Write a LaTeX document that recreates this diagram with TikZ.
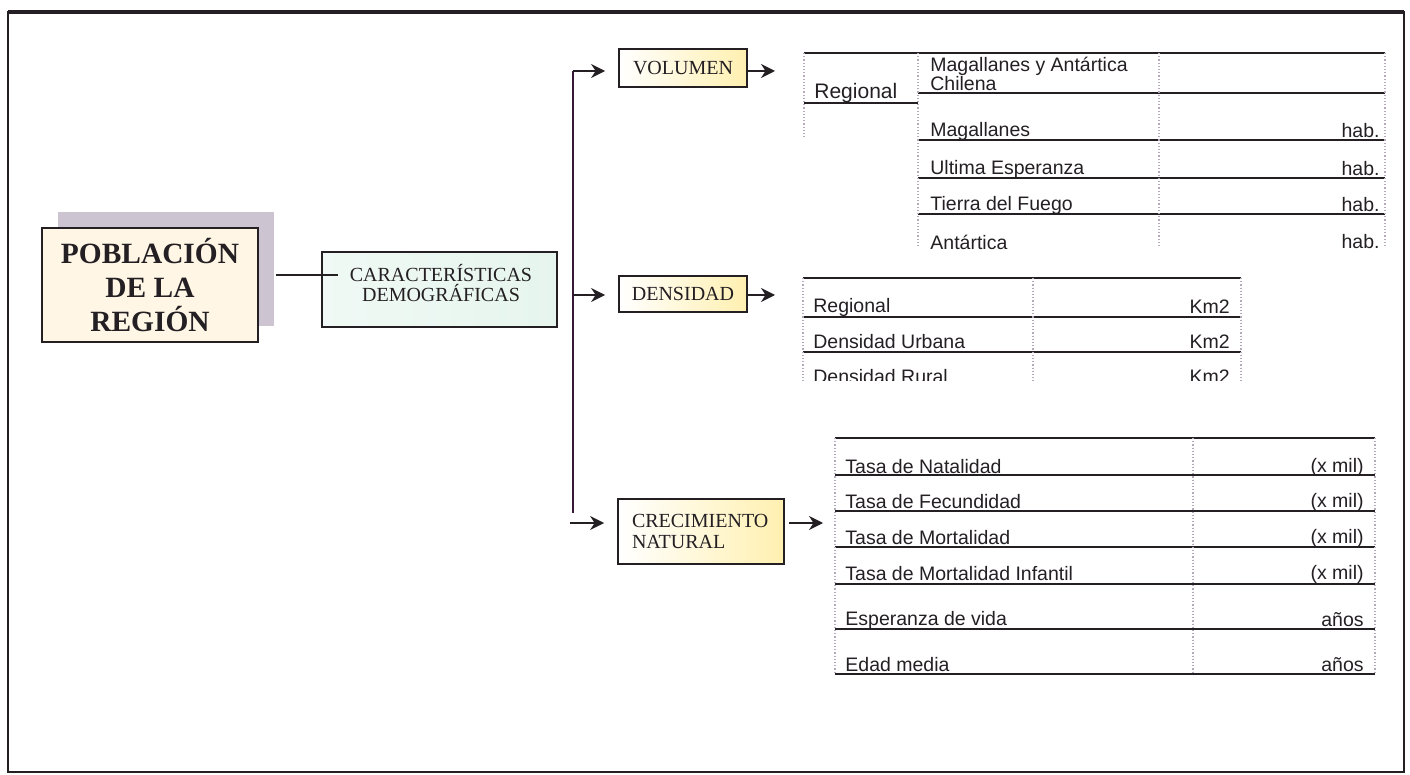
\documentclass[tikz,border=0pt]{standalone}
\usepackage{fontspec}
\setmainfont{Liberation Serif}
\setsansfont{Liberation Sans}
\usetikzlibrary{arrows.meta, positioning, shadows}
\definecolor{tinta}{HTML}{231F23}
\definecolor{sombra}{HTML}{CCC4D0}
\definecolor{crema}{HTML}{FFF6E6}
\definecolor{menta}{HTML}{E6F5EE}
\definecolor{paja}{HTML}{FFF0B0}
\definecolor{rejilla}{HTML}{B4AABC}
\tikzset{
box/.style={draw=tinta, line width=0.9pt, inner sep=0pt, text=tinta, font=\fontsize{10}{10.5}\selectfont}, % the framed boxes
ramo/.style={box, left color=white, right color=paja, minimum width=64pt}, % the three branches
flecha/.style={-{Stealth[length=7pt,width=7pt]}, line width=0.9pt, draw=tinta}, % arrows
fila/.style={line width=0.7pt, draw=tinta}, % table rows
col/.style={draw=rejilla, densely dotted, line width=0.6pt}, % table columns
dato/.style={font=\sffamily\fontsize{9.75}{9.5}\selectfont, text=tinta, inner sep=0pt, anchor=west},
unidad/.style={dato, anchor=east},
}
\begin{document}
\begin{tikzpicture}[x=0.5pt, y=-0.5pt]
\useasboundingbox (0,0) rectangle (1410,775);
\draw[line width=1.1pt, draw=tinta] (8,12) rectangle (1404,772);
\draw[line width=1.6pt, draw=tinta] (8,12) -- (1404,12);

% main boxes
\node[box, fill=crema, align=center, font=\bfseries\fontsize{14.7}{17}\selectfont,
      minimum width=108pt, minimum height=57pt,
      general shadow={fill=sombra, shadow xshift=8pt, shadow yshift=8pt}] (pob) at (150,285) {POBLACIÓN\\DE LA\\REGIÓN};
\node[box, left color=menta!60, right color=menta, minimum width=117.5pt, minimum height=37.5pt] (carac) at (439.5,289.5) {};
\node[text=tinta, align=center, font=\fontsize{10}{10}\selectfont] (caracTxt) at (441,283) {CARACTERÍSTICAS\\DEMOGRÁFICAS};
\draw[line width=0.9pt, draw=tinta] ([shift={(8.5pt,5pt)}]pob.east) -- ([shift={(8.5pt,5pt)}]pob.east -| carac.west);

% branches
\node[ramo, minimum height=19pt] (vol) at (683,68) {VOLUMEN};
\node[ramo, minimum height=18pt] (dens) at (683,294) {DENSIDAD};
\node[ramo, minimum width=83pt, minimum height=32.5pt, text width=69pt, inner xsep=7pt, align=left] (crec) at (701,531.5) {CRECIMIENTO\\NATURAL};

\coordinate (b1) at (573,71);
\coordinate (b2) at (573,295);
\coordinate (b3) at (573,523);
\draw[line width=0.8pt, draw=tinta!80!violet] (b1) -- ([yshift=5pt]b3);
\draw[flecha, shorten >=6.5pt] (b1) -- (b1 -| vol.west);
\draw[flecha, shorten >=6.5pt] (b2) -- (b2 -| dens.west);
\draw[flecha, shorten >=6.5pt] ([xshift=-1.5pt]b3) -- (b3 -| crec.west);

% tables
\coordinate (tVol) at (804,53);
\coordinate (tDens) at (803,278);
\coordinate (tCrec) at (835,438);
\draw[flecha, shorten >=14.5pt] (b1 -| vol.east) -- (b1 -| tVol);
\draw[flecha, shorten >=14pt] (b2 -| dens.east) -- (b2 -| tDens);
\draw[flecha, shorten >=6pt, shorten <=2pt] (b3 -| crec.east) -- (b3 -| tCrec);

% volumen
\draw[fila] (tVol) -- (1385,53);
\draw[fila] (804,103) -- (918,103);
\foreach \y in {93,140,178,214} \draw[fila] (918,\y) -- (1385,\y);
\draw[col] (tVol) -- (804,137);
\foreach \x in {918,1159,1385} \draw[col] (\x,53) -- (\x,248);
\node[dato, font=\sffamily\fontsize{10.5}{10.5}\selectfont] (volReg) at (814,93) {Regional};
\node[dato, align=left] (volRegion) at (930,73.5) {Magallanes y Antártica\\Chilena};
\foreach \t/\y [count=\i] in {Magallanes/131, Ultima Esperanza/169, Tierra del Fuego/205, Antártica/242} {
  \node[dato] (volP\i) at (930,\y) {\t};
  \node[unidad] (volH\i) at (1380,\y) {hab.};
}

% densidad
\draw[fila] (tDens) -- (1241,278);
\foreach \y in {317,352} \draw[fila] (803,\y) -- (1241,\y);
\foreach \x in {803,1033,1241} \draw[col] (\x,278) -- (\x,381);
\begin{scope}
\clip (790,270) rectangle (1250,381);
\foreach \t/\y [count=\i] in {Regional/307, Densidad Urbana/342, Densidad Rural/377} {
  \node[dato] (densD\i) at (813,\y) {\t};
  \node[unidad] (densK\i) at (1230,\y) {Km2};
}
\end{scope}

% crecimiento natural
\foreach \y in {438,475,511,547,584,629,674} \draw[fila] (835,\y) -- (1375,\y);
\foreach \x in {835,1193,1375} \draw[col] (\x,438) -- (\x,674);
\foreach \t/\u/\y [count=\i] in {Tasa de Natalidad/(x mil)/467, Tasa de Fecundidad/(x mil)/502,
    Tasa de Mortalidad/(x mil)/538, Tasa de Mortalidad Infantil/(x mil)/574,
    Esperanza de vida/años/620, Edad media/años/665} {
  \node[dato] (crecT\i) at (845,\y) {\t};
  \node[unidad] (crecU\i) at (1364,\y) {\u};
}
\end{tikzpicture}
\end{document}
